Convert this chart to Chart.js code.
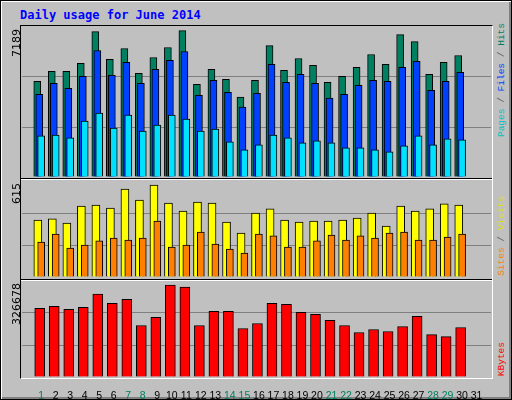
<!DOCTYPE html>
<html><head><meta charset="utf-8">
<script src="https://cdn.jsdelivr.net/npm/chart.js@4"></script>
<style>
body{margin:0;background:#c0c0c0}
#f{position:relative;width:510px;height:398px;background:#c0c0c0;border:1px solid #000;box-shadow:inset 1px 1px 0 #fff,inset -2px -2px 0 #808080;overflow:hidden}
.a{position:absolute}
canvas{position:absolute}
.v{position:absolute;writing-mode:vertical-rl;transform:rotate(180deg);white-space:nowrap}
</style></head><body>
<div id="f">
<div class="a" style="left:19px;top:7px;font:bold 12px 'DejaVu Sans Mono';color:#0000ff">Daily usage for June 2014</div>
<div class="a" style="left:19px;top:24px;width:471px;height:352px;border-left:1px solid #000;border-top:1px solid #000;border-right:1px solid #fff;border-bottom:1px solid #fff"></div>
<div class="a" style="left:20px;top:177px;width:471px;height:1px;background:#000"></div>
<div class="a" style="left:20px;top:178px;width:471px;height:1px;background:#fff"></div>
<div class="a" style="left:20px;top:278px;width:471px;height:1px;background:#000"></div>
<div class="a" style="left:20px;top:279px;width:471px;height:1px;background:#fff"></div>
<canvas id="c1" style="left:21px;top:26px;width:469px;height:150px"></canvas>
<canvas id="c2" style="left:21px;top:180px;width:469px;height:96px"></canvas>
<canvas id="c3" style="left:21px;top:280px;width:469px;height:120px"></canvas>
<div class="v" style="left:9px;top:28px;font:11px 'DejaVu Sans'">7189</div>
<div class="v" style="left:9px;top:182px;font:11px 'DejaVu Sans'">615</div>
<div class="v" style="left:9px;top:282px;font:11px 'DejaVu Sans'">326678</div>
<div class="v" style="left:495px;bottom:262px;font:9.5px 'Liberation Mono'"><span style="color:#00c0c0">Pages</span><span style="color:#606060"> / </span><span style="color:#0040ff">Files</span><span style="color:#606060"> / </span><span style="color:#008060">Hits</span></div>
<div class="v" style="left:495px;bottom:123px;font:9.5px 'Liberation Mono'"><span style="color:#ff8000">Sites</span><span style="color:#606060"> / </span><span style="color:#e0e000">Visits</span></div>
<div class="v" style="left:495px;bottom:23px;font:9.5px 'Liberation Mono'"><span style="color:#ff0000">KBytes</span></div>
</div>
<script>
const days=[1,2,3,4,5,6,7,8,9,10,11,12,13,14,15,16,17,18,19,20,21,22,23,24,25,26,27,28,29,30];
const dayLabels=[1,2,3,4,5,6,7,8,9,10,11,12,13,14,15,16,17,18,19,20,21,22,23,24,25,26,27,28,29,30,31];
const weekendDays=[1,7,8,14,15,21,22,28,29];
const hits=[4587,5063,5063,5443,6967,5634,6157,4967,5729,6205,7014,4444,5158,4682,3825,4634,6300,5110,5681,5348,4539,4824,5253,5872,5396,6824,6491,4920,5491,5824];
const files=[3968,4491,4253,4825,6062,4872,5491,4491,5158,5586,6015,3920,4634,4063,3349,4015,5396,4539,4920,4491,3777,3968,4396,4634,4586,5253,5539,4158,4586,5015];
const pages=[1968,2015,1873,2682,3063,2349,2968,2206,2492,2968,2777,2206,2301,1682,1301,1539,2015,1873,1635,1730,1635,1397,1397,1301,1206,1492,1968,1539,1825,1777];
const visits=[365,372,346,455,461,442,564,493,589,474,423,480,474,352,282,410,436,365,352,359,359,365,378,410,327,455,423,436,468,461];
const sites=[224,275,186,205,231,250,237,250,359,192,205,288,211,179,154,275,263,192,192,231,269,237,263,250,282,288,237,237,256,275];
const kbytes=[233800,240700,230400,237200,281900,251000,264700,175300,202800,312900,306000,175300,223500,223500,165000,182200,251000,247500,220000,213200,192500,175300,151300,161600,154700,171900,206300,144400,137500,168500];
const maxes={hits:7189,visits:615,kbytes:326678};
const pts=(arr,off)=>arr.map((v,i)=>({x:days[i]+off,y:v}));
const ds=(label,arr,off,color,w,order)=>({label,data:pts(arr,off),backgroundColor:color,borderColor:'#000',borderWidth:1,barThickness:w,grouped:false,order,borderSkipped:'bottom'});
function mk(id,sets,max,showX){
  return new Chart(document.getElementById(id),{type:'bar',data:{datasets:sets},
  options:{animation:false,responsive:false,maintainAspectRatio:false,devicePixelRatio:1,
   layout:{padding:0},plugins:{legend:{display:false},tooltip:{enabled:false}},
   scales:{
    x:{type:'linear',min:0.2,max:31.47,display:showX,grid:{display:false},border:{display:false},
       afterBuildTicks:s=>{s.ticks=dayLabels.map(v=>({value:v}));},
       afterFit:s=>{s.height=showX?24:0;},
       ticks:{autoSkip:false,maxRotation:0,padding:5,font:{family:'Liberation Sans',size:10.5},
        color:c=>weekendDays.includes(c.tick.value)?'#008060':'#000'}},
    y:{min:0,max,display:true,afterFit:s=>{s.width=0;},ticks:{display:false,stepSize:max/3},border:{display:false},
       grid:{drawTicks:false,color:c=>(c.index===1||c.index===2)?'#808080':'rgba(0,0,0,0)'}}
   }}});
}
function size(id,w,h){const c=document.getElementById(id);c.width=w;c.height=h;}
size('c1',469,150);size('c2',469,96);size('c3',469,120);
mk('c1',[ds('Hits',hits,-0.27,'#008060',7,3),ds('Files',files,-0.13,'#0040ff',7,2),ds('Pages',pages,0,'#00e0ff',7,1)],maxes.hits,false);
mk('c2',[ds('Visits',visits,-0.23,'#ffff00',8,2),ds('Sites',sites,0,'#ff8000',7,1)],maxes.visits,false);
mk('c3',[ds('KBytes',kbytes,-0.1,'#ff0000',10,1)],maxes.kbytes,true);
</script></body></html>
